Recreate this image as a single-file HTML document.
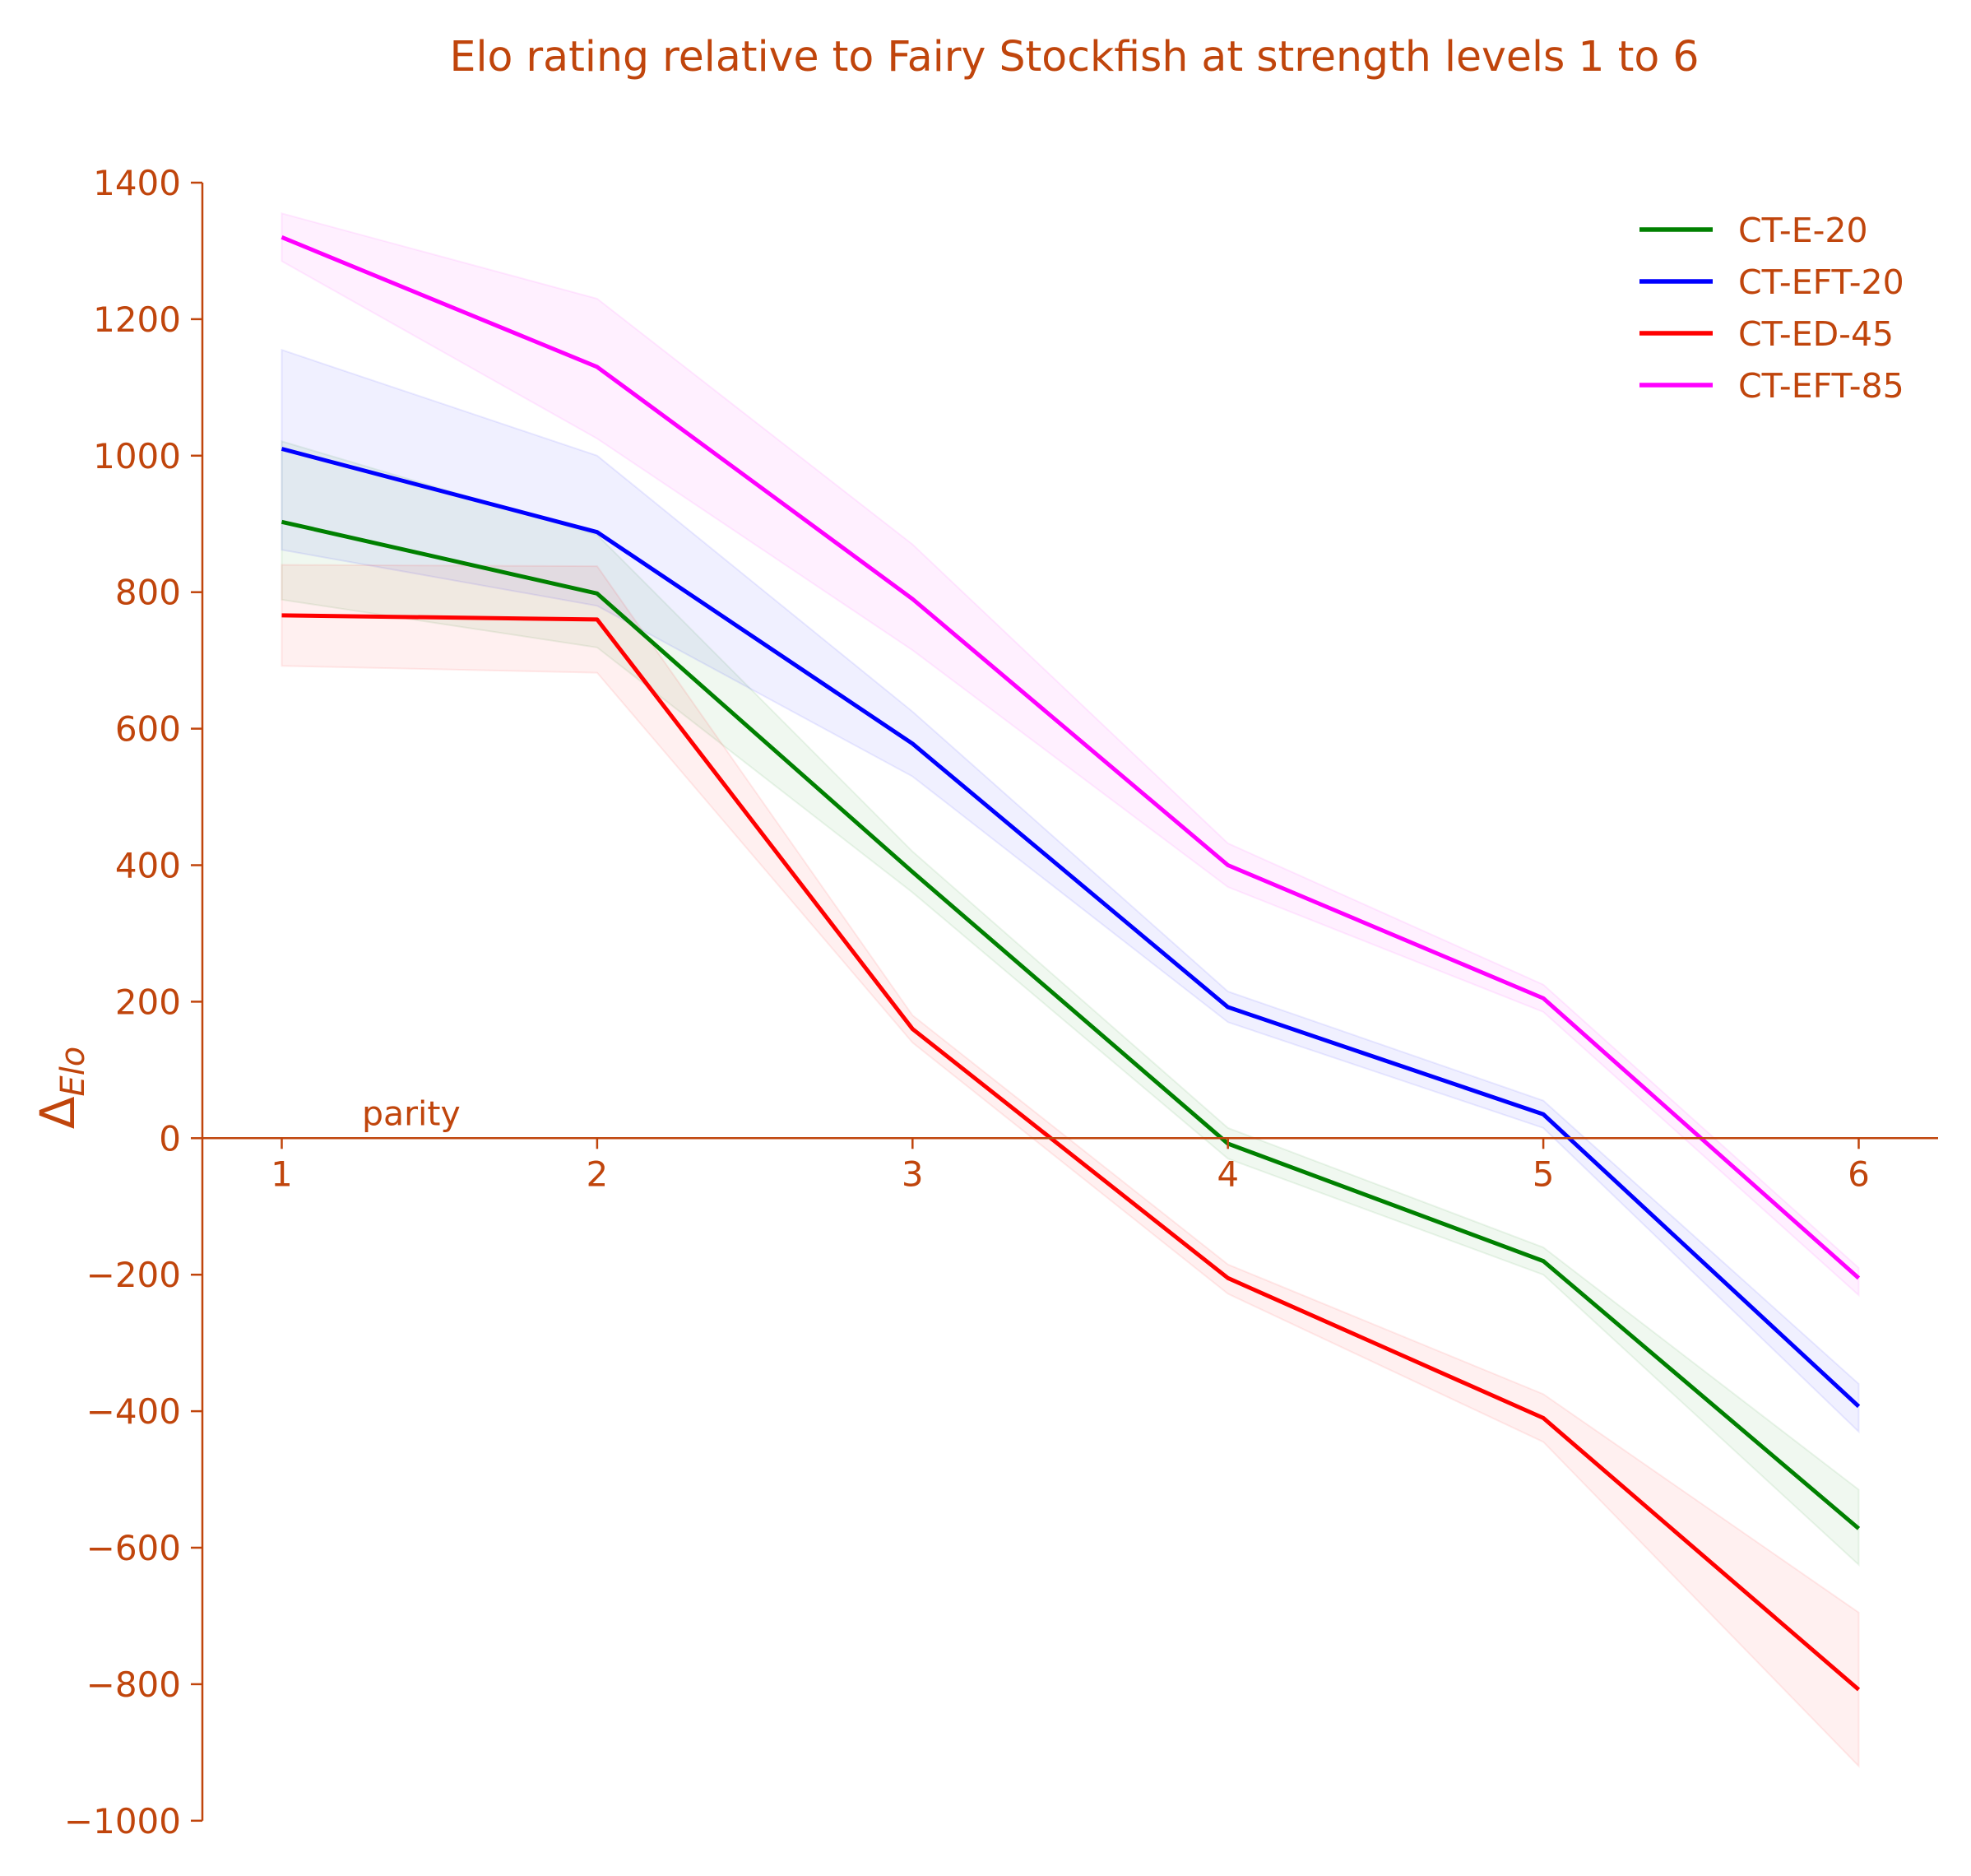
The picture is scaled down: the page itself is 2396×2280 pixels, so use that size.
<!DOCTYPE html>
<html><head><meta charset="utf-8"><style>
html,body{margin:0;padding:0;background:#fff;}
svg{display:block;font-family:"DejaVu Sans","Liberation Sans",sans-serif;}
</style></head><body>
<svg id="chart" width="2396" height="2280" viewBox="0 0 2396 2280" xmlns="http://www.w3.org/2000/svg">
<text x="1306" y="86" font-size="50.5" fill="#c0450c" text-anchor="middle">Elo rating relative to Fairy Stockfish at strength levels 1 to 6</text>
<g id="bands"></g>
<g id="lines"></g>
<g id="axes"></g>
<g id="legend"></g>
</svg>
<script>
const levels = [1,2,3,4,5,6];
const seriesNames = ["CT-E-20","CT-EFT-20","CT-ED-45","CT-EFT-85"];
const colors = ["#008000","#0000ff","#ff0000","#ff00ff"];
const greenVals = [903,798,390,-8,-180,-572];
const greenHi = [1021,884,420,15,-160,-515];
const greenLo = [789,719,360,-30,-200,-625];
const blueVals = [1010,888,578,192,35,-393];
const blueHi = [1155,1000,625,215,55,-360];
const blueLo = [862,780,530,170,15,-430];
const redVals = [766,760,160,-205,-410,-808];
const redHi = [840,838,180,-185,-375,-695];
const redLo = [692,682,140,-228,-445,-920];
const magVals = [1320,1130,790,400,205,-205];
const magHi = [1355,1230,870,432,225,-190];
const magLo = [1285,1025,715,368,185,-230];
const yTicks = [1400,1200,1000,800,600,400,200,0,-200,-400,-600,-800,-1000];

const NS = "http://www.w3.org/2000/svg";
const X = v => 342.5 + (v-1)*383.4;
const Y = v => 222 + (1400-v)*0.8295;
const TC = "#c0450c";
function mk(tag, attrs, parent){const e=document.createElementNS(NS,tag);for(const k in attrs)e.setAttribute(k,attrs[k]);parent.appendChild(e);return e;}
const bands=document.getElementById('bands'), lines=document.getElementById('lines'), axes=document.getElementById('axes'), legend=document.getElementById('legend');
const allVals=[greenVals,blueVals,redVals,magVals], allHi=[greenHi,blueHi,redHi,magHi], allLo=[greenLo,blueLo,redLo,magLo];
allVals.forEach((vals,i)=>{
  let pts=levels.map((l,j)=>X(l)+','+Y(allHi[i][j]));
  pts=pts.concat(levels.slice().reverse().map((l,jj)=>{const j=levels.length-1-jj;return X(l)+','+Y(allLo[i][j]);}));
  const b=mk('polygon',{points:pts.join(' '),fill:colors[i],'fill-opacity':0.06,stroke:colors[i],'stroke-opacity':0.08,'stroke-width':2},bands);
  
  
  const p=mk('polyline',{points:levels.map((l,j)=>X(l)+','+Y(vals[j])).join(' '),fill:'none',stroke:colors[i],'stroke-width':5,'stroke-linejoin':'round'},lines);
  
  
});
const ys=mk('line',{x1:246,x2:246,y1:Y(1400),y2:Y(-1000),stroke:TC,'stroke-width':2.5},axes);


const xs=mk('line',{x1:246,x2:2356,y1:Y(0),y2:Y(0),stroke:TC,'stroke-width':2.5},axes);


yTicks.forEach(t=>{
  mk('line',{x1:232,x2:246,y1:Y(t),y2:Y(t),stroke:TC,'stroke-width':2.5},axes);
  const tx=mk('text',{x:220,y:Y(t)+15,'font-size':42,fill:TC,'text-anchor':'end'},axes);
  tx.textContent=t<0?'\u2212'+Math.abs(t):String(t);
  
  
});
levels.forEach(l=>{
  mk('line',{x1:X(l),x2:X(l),y1:Y(0),y2:Y(0)+13,stroke:TC,'stroke-width':2.5},axes);
  const tx=mk('text',{x:X(l),y:Y(0)+58,'font-size':42,fill:TC,'text-anchor':'middle'},axes);
  tx.textContent=String(l);
  
  
});
const par=mk('text',{x:440,y:Y(0)-16,'font-size':41,fill:TC},axes);
par.textContent='parity';


const yl=mk('text',{transform:'translate(90,1322) rotate(-90)','font-size':58,fill:TC,'text-anchor':'middle'},axes);
yl.innerHTML='Δ<tspan font-size="40" font-style="italic" dy="12">Elo</tspan>';


const rowsY=[279,342,405,468];
seriesNames.forEach((n,i)=>{
  const g=mk('g',{},legend);
  
  
  mk('line',{x1:1993,x2:2082,y1:rowsY[i],y2:rowsY[i],stroke:colors[i],'stroke-width':5.5},g);
  const t=mk('text',{x:2113,y:rowsY[i]+15,'font-size':41,fill:TC},g);
  t.textContent=n;
});
</script>
</body></html>
